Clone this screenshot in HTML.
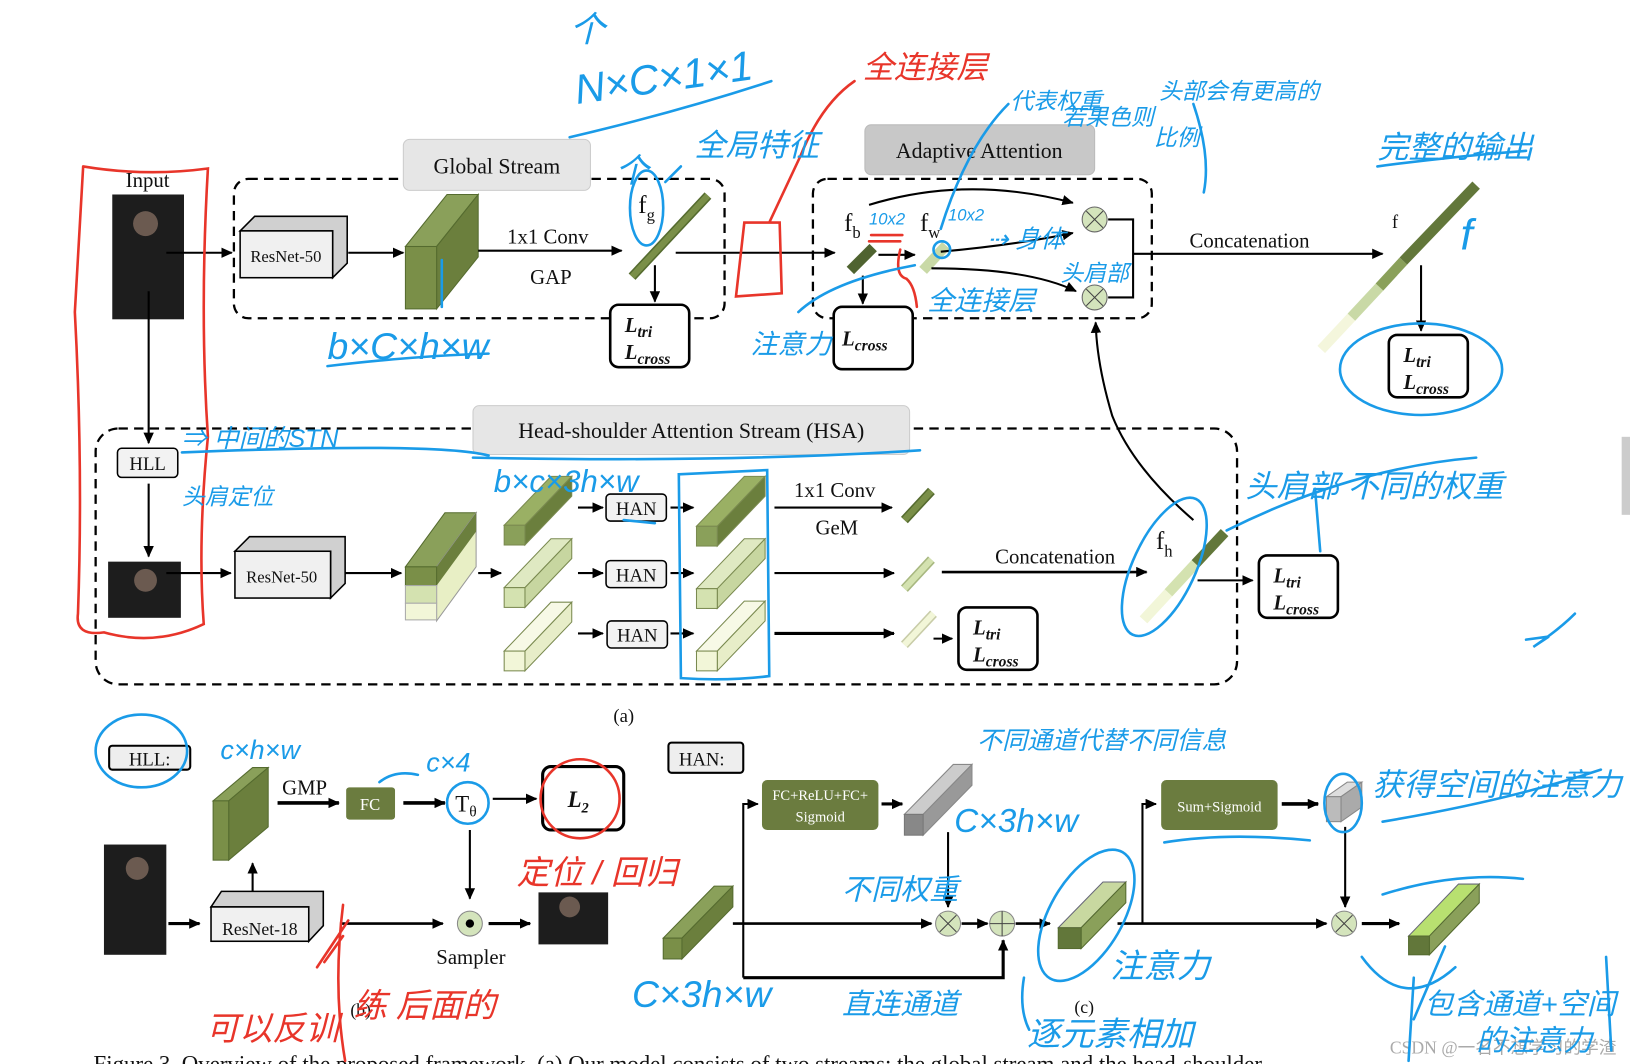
<!DOCTYPE html>
<html><head><meta charset="utf-8"><style>
html,body{margin:0;padding:0;background:#fff;width:1630px;height:1064px;overflow:hidden}
svg{display:block}
text{font-family:"Liberation Serif",serif;fill:#111}
.hw{font-family:"Liberation Sans","Noto Sans CJK SC",sans-serif;fill:#1a9be8;font-style:italic}
.hr{font-family:"Liberation Sans","Noto Sans CJK SC",sans-serif;fill:#e8352a;font-style:italic}
.b{stroke:#1a9be8;stroke-width:2.5;fill:none;stroke-linecap:round}
.r{stroke:#e8352a;stroke-width:2.5;fill:none;stroke-linecap:round}
.k{stroke:#000;stroke-width:2;fill:none}
.d{stroke:#000;stroke-width:2.2;fill:none;stroke-dasharray:9 6}
</style></head><body>
<svg width="1630" height="1064" viewBox="0 0 1568 1023" preserveAspectRatio="none" xmlns="http://www.w3.org/2000/svg">
<defs>
<marker id="a" markerWidth="11" markerHeight="10" refX="10" refY="5" orient="auto" markerUnits="userSpaceOnUse"><path d="M0,0 L11,5 L0,10 Z" fill="#000"/></marker>
<g id="loss"><rect x="0" y="0" width="76" height="60" rx="8" fill="#fff" stroke="#000" stroke-width="2.5"/>
<text x="14" y="26" font-size="20" font-weight="bold" font-style="italic">L<tspan font-size="15" dy="5">tri</tspan></text>
<text x="14" y="52" font-size="20" font-weight="bold" font-style="italic">L<tspan font-size="15" dy="5">cross</tspan></text></g>
</defs>

<rect x="1560" y="420" width="8" height="75" fill="#ccc"/>

<!-- ===== Global stream ===== -->
<rect x="225" y="172" width="472" height="134" rx="14" class="d"/>
<rect x="388" y="134" width="180" height="49" rx="6" fill="#e6e6e6" stroke="#ccc"/>
<text x="478" y="167" font-size="21" text-anchor="middle">Global Stream</text>
<text x="142" y="180" font-size="20" text-anchor="middle">Input</text>
<rect x="108" y="187" width="69" height="120" fill="#1d1d1d"/>
<circle cx="140" cy="215" r="12" fill="#6b5a50"/>
<line x1="160" y1="243" x2="223" y2="243" class="k" marker-end="url(#a)"/>
<polygon points="231,222 245,208 334,208 334,253 320,267 320,222" fill="#d0d0d0" stroke="#000" stroke-width="1.5"/>
<rect x="231" y="222" width="89" height="45" fill="#f0f0f0" stroke="#000" stroke-width="1.5"/>
<text x="275" y="252" font-size="16" text-anchor="middle">ResNet-50</text>
<line x1="335" y1="243" x2="388" y2="243" class="k" marker-end="url(#a)"/>
<polygon points="390,237 420,237 460,187 430,187" fill="#8aa05a" stroke="#556b2f"/>
<polygon points="420,237 460,187 460,247 420,297" fill="#6b7f3d" stroke="#556b2f"/>
<rect x="390" y="237" width="30" height="60" fill="#7a8f48" stroke="#556b2f"/>
<line x1="460" y1="241" x2="598" y2="241" class="k" marker-end="url(#a)"/>
<text x="527" y="234" font-size="20" text-anchor="middle">1x1 Conv</text>
<text x="530" y="273" font-size="20" text-anchor="middle">GAP</text>
<line x1="608" y1="266" x2="681" y2="188" stroke="#556b2f" stroke-width="9"/>
<line x1="608" y1="266" x2="681" y2="188" stroke="#7a8f48" stroke-width="6"/>
<text x="614" y="205" font-size="24">f<tspan font-size="16" dy="7">g</tspan></text>
<line x1="630" y1="255" x2="630" y2="290" class="k" marker-end="url(#a)"/>
<use href="#loss" x="587" y="293"/>
<line x1="650" y1="243" x2="803" y2="243" class="k" marker-end="url(#a)"/>

<!-- ===== Adaptive attention ===== -->
<rect x="832" y="120" width="221" height="48" rx="6" fill="#c8c8c8" stroke="#bbb"/>
<text x="942" y="152" font-size="21" text-anchor="middle">Adaptive Attention</text>
<rect x="782" y="172" width="326" height="134" rx="14" class="d"/>
<line x1="818" y1="260" x2="840" y2="238" stroke="#4f6330" stroke-width="10"/>
<line x1="888" y1="260" x2="910" y2="236" stroke="#c9d9a6" stroke-width="10"/>
<text x="812" y="222" font-size="24">f<tspan font-size="16" dy="7">b</tspan></text>
<text x="885" y="222" font-size="24">f<tspan font-size="16" dy="7">w</tspan></text>
<line x1="845" y1="245" x2="880" y2="245" class="k" marker-end="url(#a)"/>
<line x1="830" y1="265" x2="830" y2="292" class="k" marker-end="url(#a)"/>
<g transform="translate(802,295)"><rect width="76" height="60" rx="8" fill="#fff" stroke="#000" stroke-width="2.5"/><text x="8" y="37" font-size="20" font-weight="bold" font-style="italic">L<tspan font-size="15" dy="5">cross</tspan></text></g>
<path d="M836,197 Q930,168 1032,195" class="k" marker-end="url(#a)"/>
<path d="M905,242 Q980,235 1032,224" class="k" marker-end="url(#a)"/>
<path d="M896,258 Q990,258 1035,280" class="k" marker-end="url(#a)"/>
<circle cx="1053" cy="211" r="12" fill="#d4e4bc" stroke="#666"/><path d="M1045,203 L1061,219 M1061,203 L1045,219" stroke="#444"/>
<circle cx="1053" cy="286" r="12" fill="#d4e4bc" stroke="#666"/><path d="M1045,278 L1061,294 M1061,278 L1045,294" stroke="#444"/>
<path d="M1066,211 H1090 V286 H1066" class="k"/>
<line x1="1090" y1="244" x2="1330" y2="244" class="k" marker-end="url(#a)"/>
<text x="1202" y="238" font-size="20" text-anchor="middle">Concatenation</text>
<text x="1339" y="219" font-size="18">f</text>
<line x1="1271" y1="336" x2="1300" y2="305" stroke="#f4f6dc" stroke-width="10"/>
<line x1="1300" y1="305" x2="1327" y2="276" stroke="#c9d9a6" stroke-width="10"/>
<line x1="1327" y1="276" x2="1350" y2="251" stroke="#8aa05a" stroke-width="10"/>
<line x1="1350" y1="251" x2="1420" y2="178" stroke="#62773a" stroke-width="10"/>
<line x1="1367" y1="255" x2="1367" y2="318" class="k" marker-end="url(#a)"/>
<use href="#loss" x="1336" y="322"/>

<!-- ===== HSA ===== -->
<rect x="92" y="412" width="1098" height="246" rx="22" class="d"/>
<rect x="455" y="390" width="420" height="47" rx="6" fill="#e6e6e6" stroke="#ccc"/>
<text x="665" y="421" font-size="21" text-anchor="middle">Head-shoulder Attention Stream (HSA)</text>
<line x1="143" y1="280" x2="143" y2="426" class="k" marker-end="url(#a)"/>
<rect x="113" y="431" width="58" height="28" rx="4" fill="#f2f2f2" stroke="#000" stroke-width="1.5"/>
<text x="142" y="452" font-size="18" text-anchor="middle">HLL</text>
<line x1="143" y1="465" x2="143" y2="535" class="k" marker-end="url(#a)"/>
<rect x="104" y="540" width="70" height="54" fill="#1d1d1d"/>
<circle cx="140" cy="558" r="11" fill="#6b5a50"/>
<line x1="160" y1="551" x2="222" y2="551" class="k" marker-end="url(#a)"/>
<polygon points="226,530 240,516 332,516 332,561 318,575 318,530" fill="#d0d0d0" stroke="#000" stroke-width="1.5"/>
<rect x="226" y="530" width="92" height="45" fill="#f0f0f0" stroke="#000" stroke-width="1.5"/>
<text x="271" y="560" font-size="16" text-anchor="middle">ResNet-50</text>
<line x1="332" y1="551" x2="386" y2="551" class="k" marker-end="url(#a)"/>
<polygon points="390,545 420,545 458,493 428,493" fill="#8aa05a" stroke="#556b2f"/>
<polygon points="420,545 458,493 458,545 420,597" fill="#e8efc5" stroke="#999"/>
<polygon points="420,545 458,493 458,511 420,563" fill="#6b7f3d"/>
<rect x="390" y="545" width="30" height="18" fill="#7a8f48" stroke="#556b2f"/>
<rect x="390" y="563" width="30" height="17" fill="#d4e2b0" stroke="#aaa"/>
<rect x="390" y="580" width="30" height="16" fill="#f2f6d8" stroke="#aaa"/>
<line x1="460" y1="551" x2="482" y2="551" class="k" marker-end="url(#a)"/>
<g stroke="#7a8a50" stroke-width="1">
<polygon points="485,505 505,505 550,458 530,458" fill="#9ab064"/><polygon points="505,505 550,458 550,477 505,524" fill="#6b7f3d"/><rect x="485" y="505" width="20" height="19" fill="#8aa05a"/>
<polygon points="485,565 505,565 550,518 530,518" fill="#dfe9c2"/><polygon points="505,565 550,518 550,537 505,584" fill="#c7d6a0"/><rect x="485" y="565" width="20" height="19" fill="#d4e2b0"/>
<polygon points="485,626 505,626 550,579 530,579" fill="#f7f9e6"/><polygon points="505,626 550,579 550,598 505,645" fill="#e7edc8"/><rect x="485" y="626" width="20" height="19" fill="#f2f6d8"/>
</g>
<g font-size="18">
<line x1="556" y1="488" x2="580" y2="488" class="k" marker-end="url(#a)"/>
<rect x="583" y="475" width="58" height="26" rx="4" fill="#f2f2f2" stroke="#000" stroke-width="1.5"/><text x="612" y="495" text-anchor="middle">HAN</text>
<line x1="645" y1="488" x2="667" y2="488" class="k" marker-end="url(#a)"/>
<line x1="556" y1="551" x2="580" y2="551" class="k" marker-end="url(#a)"/>
<rect x="583" y="539" width="58" height="26" rx="4" fill="#f2f2f2" stroke="#000" stroke-width="1.5"/><text x="612" y="559" text-anchor="middle">HAN</text>
<line x1="645" y1="551" x2="667" y2="551" class="k" marker-end="url(#a)"/>
<line x1="556" y1="609" x2="580" y2="609" class="k" marker-end="url(#a)"/>
<rect x="584" y="597" width="58" height="26" rx="4" fill="#f2f2f2" stroke="#000" stroke-width="1.5"/><text x="613" y="617" text-anchor="middle">HAN</text>
<line x1="645" y1="609" x2="667" y2="609" class="k" marker-end="url(#a)"/>
</g>
<g stroke="#7a8a50" stroke-width="1">
<polygon points="670,506 690,506 736,458 716,458" fill="#9ab064"/><polygon points="690,506 736,458 736,477 690,525" fill="#6b7f3d"/><rect x="670" y="506" width="20" height="19" fill="#8aa05a"/>
<polygon points="670,566 690,566 736,518 716,518" fill="#dfe9c2"/><polygon points="690,566 736,518 736,537 690,585" fill="#c7d6a0"/><rect x="670" y="566" width="20" height="19" fill="#d4e2b0"/>
<polygon points="670,626 690,626 736,578 716,578" fill="#f7f9e6"/><polygon points="690,626 736,578 736,597 690,645" fill="#e7edc8"/><rect x="670" y="626" width="20" height="19" fill="#f2f6d8"/>
</g>
<line x1="745" y1="488" x2="858" y2="488" class="k" marker-end="url(#a)"/>
<text x="803" y="478" font-size="20" text-anchor="middle">1x1 Conv</text>
<text x="805" y="514" font-size="20" text-anchor="middle">GeM</text>
<line x1="745" y1="551" x2="860" y2="551" class="k" marker-end="url(#a)"/>
<line x1="745" y1="609" x2="860" y2="609" stroke="#000" stroke-width="3" marker-end="url(#a)"/>
<line x1="870" y1="500" x2="896" y2="472" stroke="#556b2f" stroke-width="9"/><line x1="870" y1="500" x2="896" y2="472" stroke="#7a8f48" stroke-width="6"/>
<line x1="870" y1="566" x2="896" y2="538" stroke="#a8b880" stroke-width="9"/><line x1="870" y1="566" x2="896" y2="538" stroke="#d4e2b0" stroke-width="6"/>
<line x1="870" y1="620" x2="898" y2="590" stroke="#c8cca8" stroke-width="9"/><line x1="870" y1="620" x2="898" y2="590" stroke="#f2f6d8" stroke-width="6"/>
<line x1="898" y1="614" x2="916" y2="614" class="k" marker-end="url(#a)"/>
<use href="#loss" x="922" y="584"/>
<line x1="906" y1="550" x2="1103" y2="550" stroke="#000" stroke-width="2.5" marker-end="url(#a)"/>
<text x="1015" y="542" font-size="20" text-anchor="middle">Concatenation</text>
<text x="1112" y="528" font-size="24">f<tspan font-size="16" dy="7">h</tspan></text>
<line x1="1100" y1="596" x2="1124" y2="570" stroke="#f2f6d8" stroke-width="10"/>
<line x1="1124" y1="570" x2="1150" y2="542" stroke="#d4e2b0" stroke-width="10"/>
<line x1="1150" y1="542" x2="1178" y2="512" stroke="#62773a" stroke-width="10"/>
<line x1="1152" y1="558" x2="1205" y2="558" class="k" marker-end="url(#a)"/>
<use href="#loss" x="1211" y="534"/>
<path d="M1148,500 Q1090,450 1070,400 Q1055,350 1054,310" class="k" marker-end="url(#a)"/>
<text x="600" y="694" font-size="18" text-anchor="middle" font-family="Liberation Sans">(a)</text>

<!-- ===== (b) HLL ===== -->
<rect x="105" y="717" width="78" height="23" rx="3" fill="#eee" stroke="#000" stroke-width="2"/>
<text x="144" y="736" font-size="18" text-anchor="middle">HLL:</text>
<polygon points="205,770 220,770 258,738 243,738" fill="#8aa05a" stroke="#556b2f"/>
<polygon points="220,770 258,738 258,795 220,827" fill="#6b7f3d" stroke="#556b2f"/>
<rect x="205" y="770" width="15" height="57" fill="#7a8f48" stroke="#556b2f"/>
<text x="293" y="764" font-size="20" text-anchor="middle">GMP</text>
<line x1="267" y1="772" x2="326" y2="772" stroke="#000" stroke-width="3.5" marker-end="url(#a)"/>
<rect x="333" y="757" width="47" height="31" rx="3" fill="#6b7c3f"/>
<text x="356" y="779" font-size="16" text-anchor="middle" style="fill:#fff" font-family="Liberation Sans">FC</text>
<line x1="388" y1="772" x2="428" y2="772" stroke="#000" stroke-width="3.5" marker-end="url(#a)"/>
<text x="438" y="780" font-size="22">T<tspan font-size="15" dy="5">θ</tspan></text>
<line x1="474" y1="768" x2="516" y2="768" class="k" marker-end="url(#a)"/>
<rect x="522" y="737" width="78" height="61" rx="8" fill="#fff" stroke="#000" stroke-width="3"/>
<text x="546" y="776" font-size="22" font-weight="bold" font-style="italic">L<tspan font-size="14" dy="5">2</tspan></text>
<line x1="452" y1="798" x2="452" y2="864" class="k" marker-end="url(#a)"/>
<rect x="100" y="812" width="60" height="106" fill="#1d1d1d"/><circle cx="132" cy="835" r="11" fill="#6b5a50"/>
<line x1="162" y1="888" x2="192" y2="888" stroke="#000" stroke-width="3" marker-end="url(#a)"/>
<polygon points="203,872 213,857 311,857 311,890 297,905 297,872" fill="#d0d0d0" stroke="#000" stroke-width="1.5"/>
<rect x="203" y="872" width="94" height="33" fill="#f0f0f0" stroke="#000" stroke-width="1.5"/>
<text x="250" y="899" font-size="17" text-anchor="middle">ResNet-18</text>
<line x1="243" y1="857" x2="243" y2="830" class="k" marker-end="url(#a)"/>
<line x1="327" y1="888" x2="426" y2="888" stroke="#000" stroke-width="2.5" marker-end="url(#a)"/>
<circle cx="452" cy="888" r="12" fill="#d4e4bc" stroke="#888"/><circle cx="452" cy="888" r="4" fill="#000"/>
<line x1="470" y1="888" x2="510" y2="888" stroke="#000" stroke-width="3" marker-end="url(#a)"/>
<rect x="518" y="858" width="67" height="50" fill="#1d1d1d"/><circle cx="548" cy="872" r="10" fill="#6b5a50"/>
<text x="453" y="927" font-size="20" text-anchor="middle">Sampler</text>
<text x="347" y="977" font-size="17" text-anchor="middle" font-family="Liberation Sans">(b)</text>

<!-- ===== (c) HAN ===== -->
<rect x="643" y="714" width="72" height="29" rx="3" fill="#eee" stroke="#000" stroke-width="2"/>
<text x="675" y="736" font-size="18" text-anchor="middle">HAN:</text>
<polygon points="638,902 656,902 705,852 687,852" fill="#8aa05a" stroke="#556b2f"/>
<polygon points="656,902 705,852 705,872 656,922" fill="#6b7f3d" stroke="#556b2f"/>
<rect x="638" y="902" width="18" height="20" fill="#7a8f48" stroke="#556b2f"/>
<line x1="705" y1="888" x2="896" y2="888" stroke="#000" stroke-width="2.5" marker-end="url(#a)"/>
<path d="M715,940 V773 H729" class="k" marker-end="url(#a)"/>
<path d="M715,940 H965 V904" stroke="#000" stroke-width="3" fill="none" marker-end="url(#a)"/>
<rect x="733" y="750" width="112" height="48" rx="5" fill="#6b7c3f"/>
<text x="789" y="769" font-size="14" text-anchor="middle" style="fill:#fff" font-family="Liberation Sans">FC+ReLU+FC+</text>
<text x="789" y="790" font-size="14" text-anchor="middle" style="fill:#fff" font-family="Liberation Sans">Sigmoid</text>
<line x1="848" y1="773" x2="868" y2="773" stroke="#000" stroke-width="3" marker-end="url(#a)"/>
<polygon points="870,783 888,783 935,735 917,735" fill="#ccc" stroke="#888"/>
<polygon points="888,783 935,735 935,755 888,803" fill="#999" stroke="#888"/>
<rect x="870" y="783" width="18" height="20" fill="#888" stroke="#777"/>
<line x1="912" y1="800" x2="912" y2="872" class="k" marker-end="url(#a)"/>
<circle cx="912" cy="888" r="12" fill="#d4e4bc" stroke="#888"/><path d="M904,880 L920,896 M920,880 L904,896" stroke="#444"/>
<line x1="925" y1="888" x2="950" y2="888" stroke="#000" stroke-width="2.5" marker-end="url(#a)"/>
<circle cx="964" cy="888" r="12" fill="#d4e4bc" stroke="#888"/><path d="M952,888 H976 M964,876 V900" stroke="#444"/>
<line x1="977" y1="888" x2="1010" y2="888" stroke="#000" stroke-width="2.5" marker-end="url(#a)"/>
<polygon points="1018,892 1040,892 1083,848 1061,848" fill="#c8d8a0" stroke="#667"/>
<polygon points="1040,892 1083,848 1083,868 1040,912" fill="#8aa05a" stroke="#556b2f"/>
<rect x="1018" y="892" width="22" height="20" fill="#62773a" stroke="#556b2f"/>
<line x1="1075" y1="888" x2="1276" y2="888" stroke="#000" stroke-width="2.5" marker-end="url(#a)"/>
<path d="M1099,888 V773 H1112" class="k" marker-end="url(#a)"/>
<rect x="1117" y="750" width="112" height="48" rx="5" fill="#6b7c3f"/>
<text x="1173" y="780" font-size="14" text-anchor="middle" style="fill:#fff" font-family="Liberation Sans">Sum+Sigmoid</text>
<line x1="1233" y1="773" x2="1268" y2="773" stroke="#000" stroke-width="3.5" marker-end="url(#a)"/>
<polygon points="1276,766 1290,766 1310,752 1296,752" fill="#ddd" stroke="#888"/>
<polygon points="1290,766 1310,752 1310,776 1290,790" fill="#aaa" stroke="#888"/>
<rect x="1276" y="766" width="14" height="24" fill="#bbb" stroke="#888"/>
<line x1="1294" y1="795" x2="1294" y2="872" class="k" marker-end="url(#a)"/>
<circle cx="1293" cy="888" r="12" fill="#d4e4bc" stroke="#888"/><path d="M1285,880 L1301,896 M1301,880 L1285,896" stroke="#444"/>
<line x1="1310" y1="888" x2="1346" y2="888" stroke="#000" stroke-width="3" marker-end="url(#a)"/>
<polygon points="1355,900 1375,900 1423,850 1403,850" fill="#b8e070" stroke="#667"/>
<polygon points="1375,900 1423,850 1423,868 1375,918" fill="#8aa05a" stroke="#556b2f"/>
<rect x="1355" y="900" width="20" height="18" fill="#62773a" stroke="#556b2f"/>
<text x="1043" y="974" font-size="17" text-anchor="middle" font-family="Liberation Sans">(c)</text>
<text x="90" y="1030" font-size="22">Figure 3. Overview of the proposed framework. (a) Our model consists of two streams: the global stream and the head-shoulder</text>
<text x="1555" y="1013" font-size="17" text-anchor="end" style="fill:#aaa" font-family="Liberation Sans,Noto Sans CJK SC,sans-serif">CSDN @一名不想学习的学渣</text>

<!-- ===== red annotations ===== -->
<path class="r" d="M80,160 Q140,170 200,162 Q192,300 200,420 Q190,520 196,600 Q150,622 100,608 Q72,612 75,590 Q80,450 72,300 Q78,200 80,160"/>
<path class="r" d="M708,285 L716,214 L750,214 L752,282 Z M740,214 L770,150 Q790,100 822,78"/>
<text class="hr" x="830" y="75" font-size="30">全连接层</text>
<path class="r" d="M838,226 L868,226 M836,232 L866,232 M866,240 Q860,265 872,268 Q880,275 882,295"/>
<ellipse cx="558" cy="768" rx="38" ry="38" class="r"/>
<text class="hr" x="497" y="850" font-size="32">定位 / 回归</text>
<path class="r" d="M305,930 L335,885 M312,925 L330,900 M330,870 Q320,950 332,1020"/>
<text class="hr" x="198" y="1000" font-size="32">可以反训</text>
<text class="hr" x="340" y="978" font-size="32">练 后面的</text>

<!-- ===== blue annotations ===== -->
<text class="hw" x="548" y="40" font-size="34">个</text>
<text class="hw" x="555" y="100" font-size="40" transform="rotate(-8 555 100)">N×C×1×1</text>
<path class="b" d="M548,132 Q650,108 742,78"/>
<text class="hw" x="592" y="175" font-size="32">个</text>
<text class="hw" x="668" y="150" font-size="30">全局特征</text>
<path class="b" d="M655,160 L640,175"/>
<ellipse cx="622" cy="200" rx="16" ry="36" class="b"/>
<text class="hw" x="315" y="345" font-size="36">b×C×h×w</text>
<path class="b" d="M315,352 Q400,342 470,340"/>
<path class="b" d="M425,250 L425,295"/>
<text class="hw" x="972" y="105" font-size="22">代表权重</text>
<text class="hw" x="1022" y="120" font-size="22">若果色则</text>
<text class="hw" x="1115" y="95" font-size="22">头部会有更高的</text>
<text class="hw" x="1110" y="140" font-size="22">比例</text>
<path class="b" d="M905,220 Q930,140 970,100 M1148,100 Q1165,150 1158,185"/>
<text class="hw" x="836" y="216" font-size="16">10x2</text>
<text class="hw" x="912" y="212" font-size="16">10x2</text>
<circle cx="906" cy="240" r="8" class="b"/>
<text class="hw" x="950" y="238" font-size="24">⇢ 身体</text>
<text class="hw" x="1020" y="270" font-size="22">头肩部</text>
<text class="hw" x="892" y="298" font-size="26">全连接层</text>
<path class="b" d="M880,255 Q800,270 768,300"/>
<text class="hw" x="722" y="340" font-size="26">注意力</text>
<text class="hw" x="1325" y="152" font-size="30">完整的输出</text>
<path class="b" d="M1325,160 Q1400,150 1468,145"/>
<text class="hw" x="1405" y="240" font-size="42">f</text>
<ellipse cx="1367" cy="355" rx="78" ry="44" class="b"/>
<text class="hw" x="175" y="430" font-size="24">⇒ 中间的STN</text>
<text class="hw" x="175" y="485" font-size="22">头肩定位</text>
<path class="b" d="M175,435 Q420,425 470,438 M600,500 L630,503"/>
<text class="hw" x="475" y="473" font-size="30">b×c×3h×w</text>
<path class="b" d="M455,440 Q700,445 885,433"/>
<path class="b" d="M653,456 L738,452 L740,650 Q700,655 655,652 Z"/>
<text class="hw" x="1198" y="478" font-size="30">头肩部 不同的权重</text>
<path class="b" d="M1180,510 Q1300,450 1420,440 M1265,470 L1270,530"/>
<ellipse cx="1120" cy="545" rx="30" ry="72" transform="rotate(25 1120 545)" class="b"/>
<path class="b" d="M1468,615 L1490,612 L1475,622 Q1500,605 1515,590"/>
<ellipse cx="136" cy="722" rx="44" ry="35" class="b"/>
<text class="hw" x="212" y="730" font-size="26">c×h×w</text>
<text class="hw" x="410" y="742" font-size="26">c×4</text>
<path class="b" d="M365,752 Q380,740 402,745"/>
<ellipse cx="450" cy="772" rx="20" ry="20" class="b"/>
<text class="hw" x="940" y="720" font-size="24">不同通道代替不同信息</text>
<text class="hw" x="918" y="800" font-size="32">C×3h×w</text>
<text class="hw" x="810" y="865" font-size="28">不同权重</text>
<text class="hw" x="608" y="968" font-size="36">C×3h×w</text>
<text class="hw" x="810" y="975" font-size="28">直连通道</text>
<text class="hw" x="1068" y="940" font-size="32">注意力</text>
<text class="hw" x="988" y="1005" font-size="32">逐元素相加</text>
<ellipse cx="1045" cy="880" rx="35" ry="70" transform="rotate(30 1045 880)" class="b"/>
<path class="b" d="M985,940 Q980,970 990,990"/>
<text class="hw" x="1320" y="765" font-size="30">获得空间的注意力</text>
<ellipse cx="1292" cy="772" rx="18" ry="28" class="b"/>
<path class="b" d="M1120,810 Q1180,800 1260,808 M1330,790 Q1450,770 1540,740"/>
<path class="b" d="M1330,860 Q1400,838 1465,845 M1310,920 Q1350,975 1400,930 M1360,980 L1390,910"/>
<text class="hw" x="1370" y="975" font-size="28">包含通道+空间</text>
<text class="hw" x="1420" y="1010" font-size="28">的注意力</text>
<path class="b" d="M1355,1020 L1360,940 M1545,920 L1550,1010"/>
</svg>
</body></html>
